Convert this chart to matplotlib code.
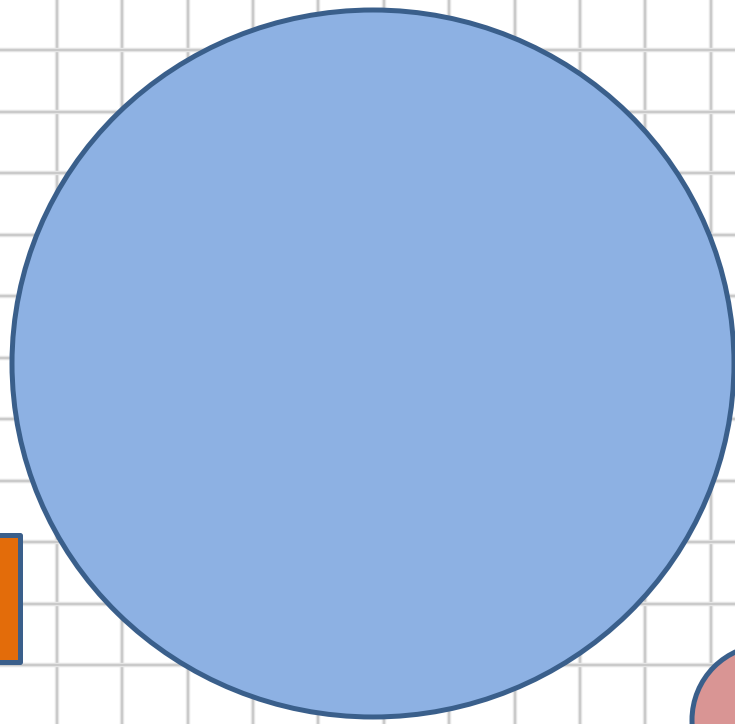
import matplotlib
matplotlib.use("Agg")
import matplotlib.pyplot as plt
from matplotlib.patches import Ellipse, Rectangle, Circle

# grid in image pixels
grid_x = [57, 122.5, 188, 253, 318.5, 384, 449.5, 515, 580, 645.5, 711]
grid_y = [50, 111.5, 173, 234.5, 296, 357.5, 419, 480.5, 542, 603.5, 665]

# shapes: (centre x, centre y, width, height)
big_circle = (373, 363.5, 722, 707)
orange_box = (-10, 534.5, 30, 127)   # x, y, w, h
pink_circle = (767, 720, 75)

edge_col = '#3a5f8b'

fig = plt.figure(figsize=(7.35, 7.24), dpi=100)
ax = fig.add_axes([0, 0, 1, 1])
ax.set_xlim(0, 735)
ax.set_ylim(724, 0)
ax.axis('off')

# soft grey grid: wide faint line with a darker core
for gx in grid_x:
    ax.axvline(gx, color='#e4e4e4', linewidth=3.2, zorder=1)
    ax.axvline(gx, color='#c8c8c8', linewidth=1.3, zorder=1)
for gy in grid_y:
    ax.axhline(gy, color='#e4e4e4', linewidth=3.2, zorder=1)
    ax.axhline(gy, color='#c8c8c8', linewidth=1.3, zorder=1)

ax.add_patch(Rectangle((orange_box[0], orange_box[1]), orange_box[2], orange_box[3],
                       facecolor='#e36c0a', edgecolor=edge_col, linewidth=3.6,
                       joinstyle='round', zorder=3))
ax.add_patch(Ellipse((big_circle[0], big_circle[1]), big_circle[2], big_circle[3],
                     facecolor='#8db1e3', edgecolor=edge_col, linewidth=3.6, zorder=4))
ax.add_patch(Circle((pink_circle[0], pink_circle[1]), pink_circle[2],
                    facecolor='#d99594', edgecolor=edge_col, linewidth=3.6, zorder=4))

fig.savefig('out.png', dpi=100)
